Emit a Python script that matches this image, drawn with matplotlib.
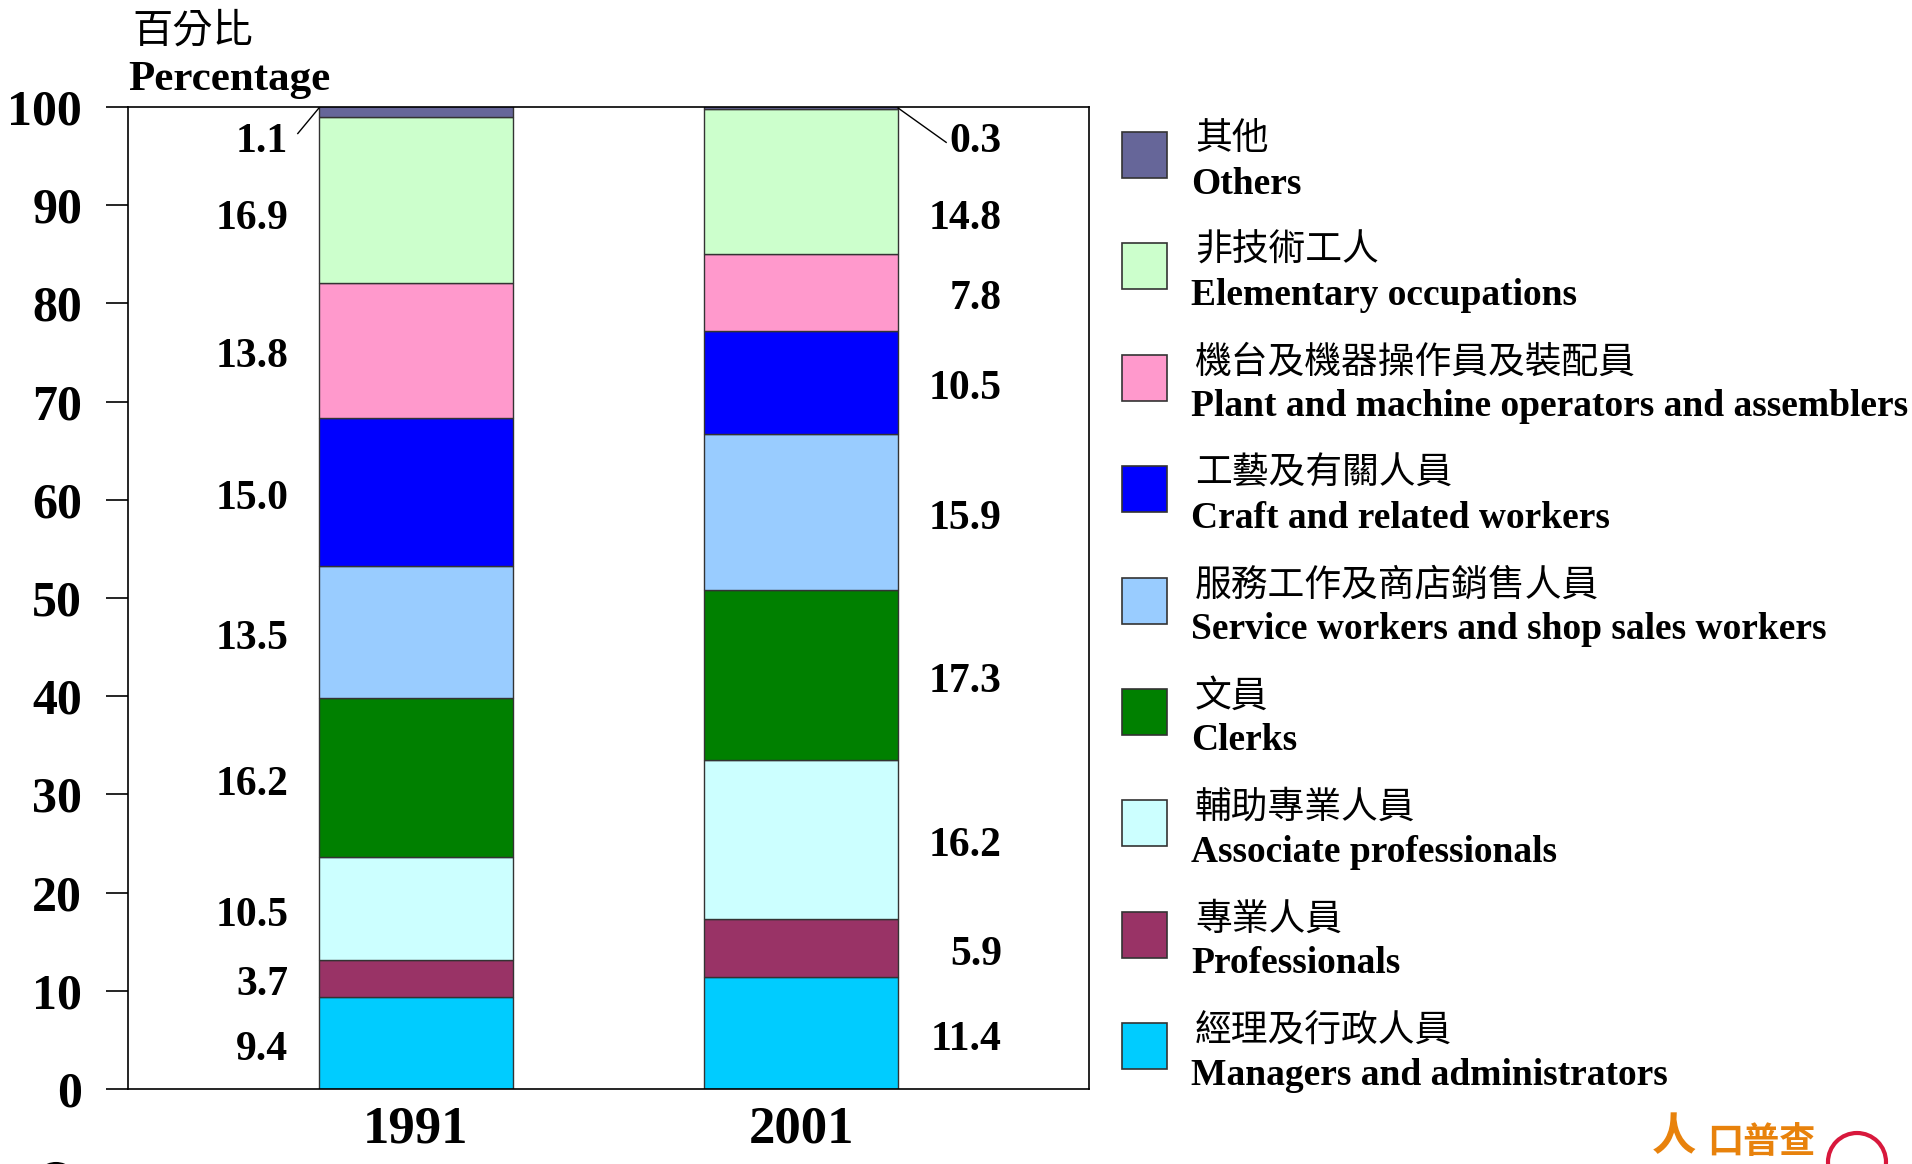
import matplotlib
matplotlib.use("Agg")
import matplotlib.pyplot as plt
from matplotlib.patches import Rectangle, Ellipse

# data: bottom -> top
years = ["1991", "2001"]
cat_zh = ["經理及行政人員", "專業人員", "輔助專業人員", "文員", "服務工作及商店銷售人員",
          "工藝及有關人員", "機台及機器操作員及裝配員", "非技術工人", "其他"]
cat_en = ["Managers and administrators", "Professionals", "Associate professionals", "Clerks",
          "Service workers and shop sales workers", "Craft and related workers",
          "Plant and machine operators and assemblers", "Elementary occupations", "Others"]
share_1991 = [9.4, 3.7, 10.5, 16.2, 13.5, 15.0, 13.8, 16.9, 1.1]
share_2001 = [11.4, 5.9, 16.2, 17.3, 15.9, 10.5, 7.8, 14.8, 0.3]
colors = ["#00CCFF", "#993366", "#CCFFFF", "#008000", "#99CCFF",
          "#0000FF", "#FF99CC", "#CCFFCC", "#666699"]

SERIF = ["Liberation Serif", "Noto Sans CJK TC"]
CJK = ["Noto Sans CJK TC", "DejaVu Sans"]
plt.rcParams["font.family"] = SERIF

W, H = 1912, 1164
fig = plt.figure(figsize=(W / 100, H / 100), dpi=100)
ax = fig.add_axes([128 / W, 1 - 1089 / H, (1089 - 128) / W, (1089 - 107) / H])

xpos = [0, 1]
bw = 0.504
series = [share_1991, share_2001]
for xi, vals in zip(xpos, series):
    bottom = 0
    for v, c in zip(vals, colors):
        ax.bar(xi, v, bottom=bottom, width=bw, color=c, edgecolor="#333333", linewidth=1)
        bottom += v

# value labels
top_label_y = {8: 96.4, 7: 88.6}  # nudged labels for the thin top segments
label_x = [-0.332, 1.522]
for k, (xi, vals) in enumerate(zip(xpos, series)):
    bottom = 0
    for i, v in enumerate(vals):
        yc = top_label_y.get(i, bottom + v / 2 - 0.7)
        ax.text(label_x[k], yc, f"{v:.1f}", ha="right", va="center",
                fontsize=30, fontweight="bold", family=SERIF)
        bottom += v

# leader lines for the "Others" segments
ax.plot([xpos[0] - bw / 2, xpos[0] - bw / 2 - 0.055], [99.9, 97.3], color="black", lw=1)
ax.plot([xpos[1] + bw / 2, xpos[1] + bw / 2 + 0.125], [99.9, 96.4], color="black", lw=1)

ax.set_xlim(-0.748, 1.748)
ax.set_ylim(0, 100)
ax.set_yticks(range(0, 101, 10))
ax.tick_params(axis="y", direction="out", length=16, width=1.2, pad=17, labelsize=36)
ax.set_xticks(xpos)
ax.set_xticklabels(years)
ax.tick_params(axis="x", length=0, pad=12, labelsize=38)
for lab in ax.get_yticklabels() + ax.get_xticklabels():
    lab.set_fontweight("bold")
for s in ax.spines.values():
    s.set_linewidth(1.2)
    s.set_color("black")

# axis title
fig.text(132 / W, 1 - 31 / H, "百分比", family=CJK, fontsize=29, va="center", ha="left")
fig.text(128 / W, 1 - 80 / H, "Percentage", family=SERIF, fontsize=31,
         fontweight="bold", va="center", ha="left")

# legend (top -> bottom)
for j, i in enumerate(range(len(cat_en) - 1, -1, -1)):
    yc = 155 + j * 111.4
    fig.add_artist(Rectangle((1122 / W, 1 - (yc + 23) / H), 45 / W, 46 / H,
                             transform=fig.transFigure, facecolor=colors[i],
                             edgecolor="#333333", linewidth=1.2))
    fig.text(1195 / W, 1 - (yc - 16) / H, cat_zh[i], family=CJK, fontsize=26.5,
             va="center", ha="left")
    fig.text(1191 / W, 1 - (yc + 29) / H, cat_en[i], family=SERIF, fontsize=27,
             fontweight="bold", va="center", ha="left")

# logo fragments at the bottom edge
fig.text(1652 / W, 1 - 1114 / H, "人", family=CJK, fontsize=32, fontweight="bold",
         color="#E8820C", va="top", ha="left")
fig.text(1707 / W, 1 - 1124 / H, "口普查", family=CJK, fontsize=26, fontweight="bold",
         color="#E8820C", va="top", ha="left")
fig.add_artist(Ellipse((1857 / W, 1 - 1162 / H), 58 / W, 58 / H, transform=fig.transFigure,
                       facecolor="none", edgecolor="#D8183C", linewidth=3))
fig.add_artist(Ellipse((56 / W, 1 - 1185 / H), 44 / W, 44 / H, transform=fig.transFigure,
                       facecolor="none", edgecolor="black", linewidth=1.5))

fig.savefig("out.png", dpi=100)
